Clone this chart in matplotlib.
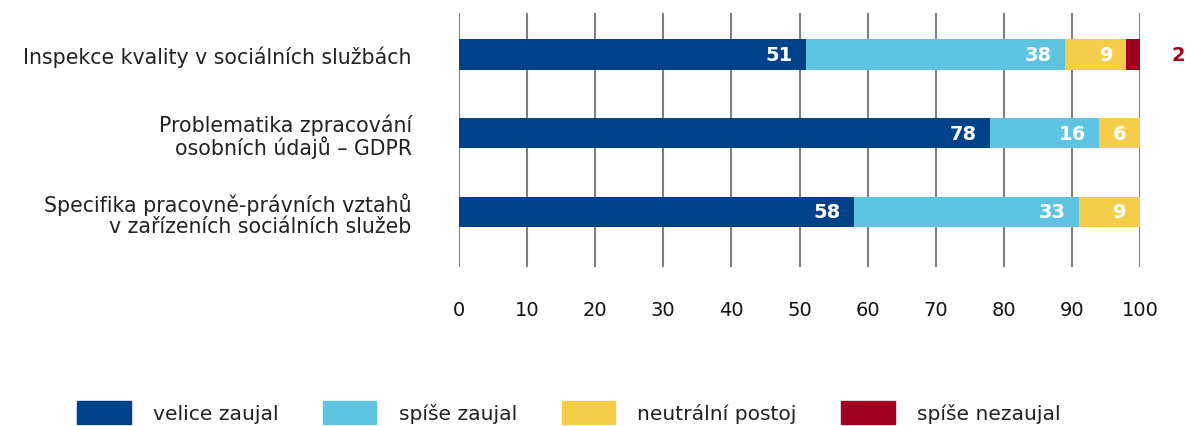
import numpy as np
import matplotlib.pyplot as plt
from matplotlib.patches import Patch

categories = ["Inspekce kvality v sociálních službách",
              "Problematika zpracování\nosobních údajů – GDPR",
              "Specifika pracovně-právních vztahů\nv zařízeních sociálních služeb"]
series_names = ["velice zaujal", "spíše zaujal", "neutrální postoj", "spíše nezaujal"]
velice_zaujal = [51, 78, 58]
spise_zaujal = [38, 16, 33]
neutralni = [9, 6, 9]
spise_nezaujal = [2, 0, 0]
colors = ["#00428A", "#5EC4E2", "#F4CD4B", "#A00020"]

plt.rcParams['font.family'] = ['DejaVu Sans']

fig = plt.figure(figsize=(11.89, 4.27), dpi=100)
ax = fig.add_axes([459 / 1189, 1 - 268 / 427, 681 / 1189, 254 / 427])

series = [velice_zaujal, spise_zaujal, neutralni, spise_nezaujal]
y = np.arange(len(categories))
left = np.zeros(len(categories))
for vals, col, name in zip(series, colors, series_names):
    vals = np.array(vals, dtype=float)
    ax.barh(y, vals, left=left, height=0.39, color=col, label=name, zorder=2)
    for yi, (l, v) in enumerate(zip(left, vals)):
        if v >= 5:
            ax.annotate(f"{int(v)}", xy=(l + v, yi), xytext=(-9.5, 0),
                        textcoords="offset points", ha="right", va="center",
                        color="white", fontsize=14, fontweight="bold", zorder=3)
        elif v > 0:
            ax.annotate(f"{int(v)}", xy=(100, yi), xytext=(22.5, 0),
                        textcoords="offset points", ha="left", va="center",
                        color=col, fontsize=14, fontweight="bold",
                        annotation_clip=False)
    left += vals

ax.set_xlim(0, 100)
ax.set_ylim(2.70, -0.525)
ax.set_xticks(np.arange(0, 101, 10))
ax.set_yticks(y)
ax.set_yticklabels(categories, fontsize=14.8, color="#222222", linespacing=1.02)
ax.tick_params(axis="y", length=0, pad=34)
ax.tick_params(axis="x", length=0, pad=24, labelsize=14, labelcolor="#111111")
ax.grid(axis="x", color="#808080", linewidth=1.5, zorder=0)
for s in ax.spines.values():
    s.set_visible(False)

handles = [Patch(color=c) for c in colors]
fig.legend(handles, series_names, loc="lower left", bbox_to_anchor=(59 / 1189, -16 / 427),
           ncol=4, frameon=False, fontsize=14.6, handlelength=2.63, handleheight=1.35,
           handletextpad=1.1, columnspacing=2.2, labelcolor="#222222")

fig.savefig("out.png", dpi=100)
